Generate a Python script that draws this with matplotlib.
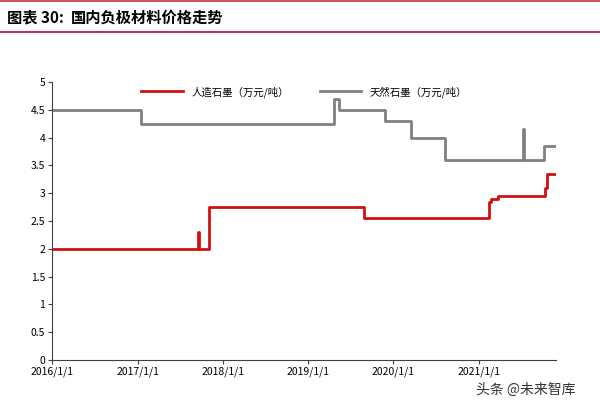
import matplotlib
matplotlib.use("Agg")
import matplotlib.pyplot as plt
import pandas as pd

plt.rcParams['font.family'] = ['Noto Sans CJK SC', 'DejaVu Sans']

red_dates = ["2016-01-01","2017-09-15","2017-09-20","2017-11-02","2019-08-28","2021-02-12","2021-02-20","2021-03-25","2021-10-10","2021-10-20","2021-11-25"]
red_vals  = [2.0, 2.3, 2.0, 2.75, 2.55, 2.85, 2.9, 2.95, 3.1, 3.35, 3.35]
gray_dates = ["2016-01-01","2017-01-15","2019-04-22","2019-05-15","2019-11-25","2020-03-15","2020-08-10","2021-07-08","2021-07-12","2021-10-08","2021-11-25"]
gray_vals  = [4.5, 4.25, 4.7, 4.5, 4.3, 4.0, 3.6, 4.15, 3.6, 3.85, 3.85]
xticks = ["2016-01-01","2017-01-01","2018-01-01","2019-01-01","2020-01-01","2021-01-01"]
xticklabels = ["2016/1/1","2017/1/1","2018/1/1","2019/1/1","2020/1/1","2021/1/1"]
yticks = [0,0.5,1,1.5,2,2.5,3,3.5,4,4.5,5]
ylabels = ["0","0.5","1","1.5","2","2.5","3","3.5","4","4.5","5"]

fig = plt.figure(figsize=(6.0,4.04), dpi=100)
fig.add_artist(plt.Line2D([0,1],[0.998,0.998], color='#c0304a', lw=1.2))
fig.add_artist(plt.Line2D([0,1],[0.92,0.92], color='#c0304a', lw=1.5))
fig.text(0.012, 0.956, "图表 30:", fontsize=11, fontweight='bold', style='italic', va='center')
fig.text(0.118, 0.956, "国内负极材料价格走势", fontsize=11, fontweight='bold', va='center')

ax = fig.add_axes([0.087, 0.109, 0.84, 0.688])
ax.plot(pd.to_datetime(red_dates), red_vals, drawstyle='steps-post', color='#d01010', lw=2, label='人造石墨（万元/吨）')
ax.plot(pd.to_datetime(gray_dates), gray_vals, drawstyle='steps-post', color='#808080', lw=2, label='天然石墨（万元/吨）')
ax.set_xlim(pd.Timestamp("2016-01-01"), pd.Timestamp("2021-11-28"))
ax.set_ylim(0,5)
ax.set_yticks(yticks); ax.set_yticklabels(ylabels, fontsize=7.5)
ax.set_xticks(pd.to_datetime(xticks)); ax.set_xticklabels(xticklabels, fontsize=7.5)
for s in ['top','right']:
    ax.spines[s].set_visible(False)
for s in ['left','bottom']:
    ax.spines[s].set_color('#404040')
ax.tick_params(length=3, color='#404040', pad=2)
ax.legend(loc='upper center', ncol=2, frameon=False, fontsize=7.5, bbox_to_anchor=(0.5,1.02), columnspacing=3, handlelength=4)
fig.text(0.96, 0.035, "头条 @未来智库", fontsize=10, color='#333333', ha='right', va='center')
fig.savefig("out.png", dpi=100)
